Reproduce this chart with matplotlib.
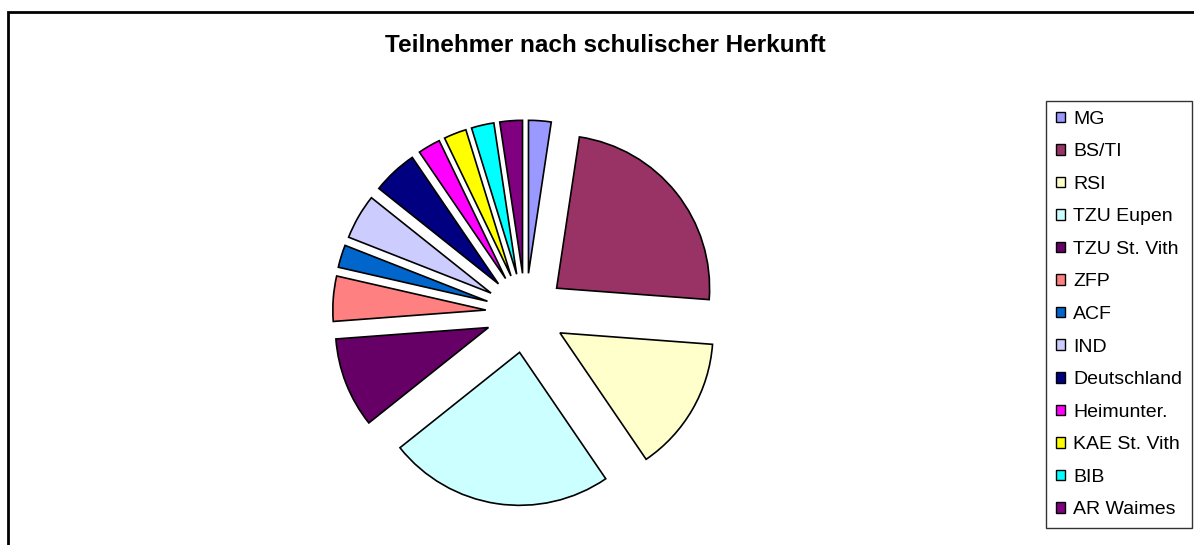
import matplotlib
matplotlib.use('Agg')
import matplotlib.pyplot as plt
from matplotlib.patches import Rectangle

# participants by school of origin (counts)
labels = ['MG', 'BS/TI', 'RSI', 'TZU Eupen', 'TZU St. Vith', 'ZFP', 'ACF', 'IND',
          'Deutschland', 'Heimunter.', 'KAE St. Vith', 'BIB', 'AR Waimes']
counts = [1, 10, 6, 10, 4, 2, 1, 2, 2, 1, 1, 1, 1]
colors = ['#9999FF', '#993366', '#FFFFCC', '#CCFFFF', '#660066', '#FF8080', '#0066CC',
          '#CCCCFF', '#000080', '#FF00FF', '#FFFF00', '#00FFFF', '#800080']

plt.rcParams['font.family'] = ['Liberation Sans', 'DejaVu Sans']

W, H = 1194, 545
fig = plt.figure(figsize=(W / 100, H / 100), dpi=100)

# pie geometry in pixels
R = 153.0
cx, cy = 525.5, 313.0

ax = fig.add_axes([0, 0, 1, 1])
wedges, _ = ax.pie(counts, colors=colors, startangle=90, counterclock=False,
                   explode=[0.26] * len(counts),
                   wedgeprops=dict(edgecolor='black', linewidth=1.2))
ax.set_xlim(-cx / R, (W - cx) / R)
ax.set_ylim(-(H - cy) / R, cy / R)
ax.axis('off')

# outer chart frame
fig.patches.append(Rectangle((7.5 / W, -0.1), 1.2, 1 - 12 / H + 0.1,
                             transform=fig.transFigure, fill=False,
                             edgecolor='black', linewidth=2))

fig.text(605 / W, 1 - 45 / H, 'Teilnehmer nach schulischer Herkunft',
         ha='center', va='center', fontsize=17.5, fontweight='bold')

leg = fig.legend(wedges, labels, loc='upper left',
                 bbox_to_anchor=(1046 / W, 1 - 101 / H),
                 fontsize=14, frameon=True, fancybox=False,
                 edgecolor='black', borderaxespad=0, borderpad=0.5,
                 handlelength=0.46, handleheight=0.46, handletextpad=0.45,
                 labelspacing=0.8)
leg.get_frame().set_linewidth(1)
for h in leg.legend_handles:
    h.set_edgecolor('black')
    h.set_linewidth(1)

fig.savefig('out.png', dpi=100)
